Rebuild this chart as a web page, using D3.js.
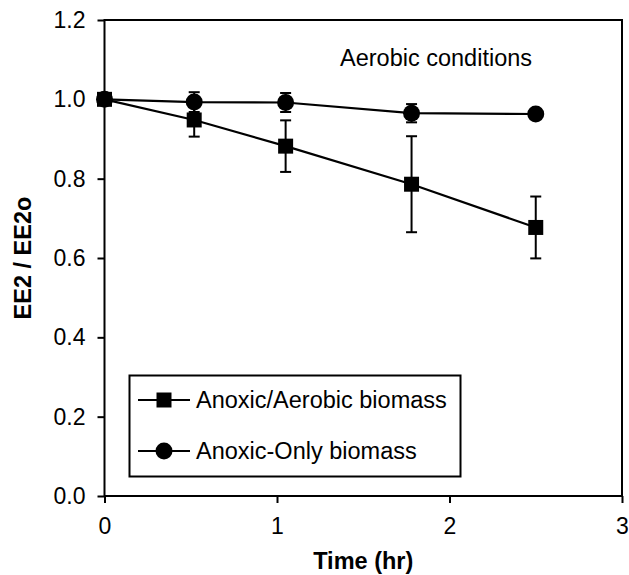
<!DOCTYPE html>
<html>
<head>
<meta charset="utf-8">
<script src="https://cdn.jsdelivr.net/npm/d3@7"></script>
<style>
  html, body { margin: 0; padding: 0; background: #fff; }
  svg { display: block; font-family: Arial, "Liberation Sans", Helvetica, sans-serif; }
</style>
</head>
<body>
<svg id="chart" width="629" height="575"></svg>
<script>
// Sampling times (hr)
const times = [0, 0.52, 1.05, 1.78, 2.5];

// EE2 / EE2o for each biomass, with standard deviations
const anoxicAerobic = [1.0, 0.948, 0.882, 0.786, 0.677];
const anoxicAerobicErr = [0, 0.042, 0.065, 0.121, 0.078];
const anoxicOnly = [1.0, 0.993, 0.992, 0.965, 0.963];
const anoxicOnlyErr = [0, 0.025, 0.024, 0.023, 0.005];

const seriesNames = ["Anoxic/Aerobic biomass", "Anoxic-Only biomass"];
const xTicks = [0, 1, 2, 3];
const yTicks = [0, 0.2, 0.4, 0.6, 0.8, 1.0, 1.2];

const svg = d3.select("#chart");
const plotL = 104.5, plotR = 622, plotT = 20, plotB = 496;
const FS = 23.5;

const x = d3.scaleLinear().domain([0, 3]).range([plotL, plotR]);
const y = d3.scaleLinear().domain([0, 1.2]).range([plotB, plotT]);

// Axes
const xAxis = svg.append("g").attr("transform", `translate(0,${plotB})`)
  .call(d3.axisBottom(x).tickValues(xTicks).tickSize(7).tickSizeOuter(0).tickPadding(10)
    .tickFormat(d3.format("d")));
const yAxis = svg.append("g").attr("transform", `translate(${plotL},0)`)
  .call(d3.axisLeft(y).tickValues(yTicks).tickSize(7).tickSizeOuter(0).tickPadding(12)
    .tickFormat(d3.format(".1f")));
[xAxis, yAxis].forEach(g => {
  g.select(".domain").remove();
  g.selectAll(".tick line").attr("stroke", "#000").attr("stroke-width", 2);
  g.selectAll(".tick text").attr("fill", "#000").style("font-size", "23px");
});
xAxis.selectAll(".tick text").attr("dy", "0.9em");

// Plot frame
svg.append("rect")
  .attr("x", plotL).attr("y", plotT)
  .attr("width", plotR - plotL).attr("height", plotB - plotT)
  .attr("fill", "none").attr("stroke", "#000").attr("stroke-width", 2);

// Axis titles
svg.append("text")
  .attr("x", (plotL + plotR) / 2).attr("y", 569)
  .attr("text-anchor", "middle").style("font-size", FS + "px").style("font-weight", "bold")
  .text("Time (hr)");
svg.append("text")
  .attr("transform", `translate(31,${(plotT + plotB) / 2}) rotate(-90)`)
  .attr("text-anchor", "middle").style("font-size", FS + "px").style("font-weight", "bold")
  .text("EE2 / EE2o");

// Annotation
svg.append("text")
  .attr("x", 340).attr("y", 66)
  .style("font-size", FS + "px")
  .text("Aerobic conditions");

const line = d3.line().x(d => x(d[0])).y(d => y(d[1]));
const capW = 5.5;

function drawSeries(vals, errs, shape) {
  const pts = times.map((t, i) => [t, vals[i], errs[i]]);
  const g = svg.append("g");
  g.append("path").datum(pts).attr("d", line)
    .attr("fill", "none").attr("stroke", "#000").attr("stroke-width", 2.2);
  const eb = g.selectAll(".eb").data(pts.filter(d => d[2] > 0)).join("g");
  eb.append("line")
    .attr("x1", d => x(d[0])).attr("x2", d => x(d[0]))
    .attr("y1", d => y(d[1] - d[2])).attr("y2", d => y(d[1] + d[2]))
    .attr("stroke", "#000").attr("stroke-width", 2);
  [-1, 1].forEach(s => {
    eb.append("line")
      .attr("x1", d => x(d[0]) - capW).attr("x2", d => x(d[0]) + capW)
      .attr("y1", d => y(d[1] + s * d[2])).attr("y2", d => y(d[1] + s * d[2]))
      .attr("stroke", "#000").attr("stroke-width", 2);
  });
  g.selectAll(".mk").data(pts).join("path")
    .attr("transform", d => `translate(${x(d[0])},${y(d[1])})`)
    .attr("d", shape)
    .attr("fill", "#000");
}

const squareShape = "M-7.5,-7.5H7.5V7.5H-7.5Z";
const circleShape = d3.symbol(d3.symbolCircle, Math.PI * 8.5 * 8.5)();

drawSeries(anoxicAerobic, anoxicAerobicErr, squareShape);
drawSeries(anoxicOnly, anoxicOnlyErr, circleShape);

// Legend
const lg = svg.append("g");
lg.append("rect")
  .attr("x", 129.5).attr("y", 375.5).attr("width", 331).attr("height", 101)
  .attr("fill", "#fff").attr("stroke", "#000").attr("stroke-width", 2);
const rows = [
  { name: seriesNames[0], shape: squareShape, yPos: 400 },
  { name: seriesNames[1], shape: circleShape, yPos: 451 }
];
rows.forEach(r => {
  lg.append("line").attr("x1", 138).attr("x2", 190).attr("y1", r.yPos).attr("y2", r.yPos)
    .attr("stroke", "#000").attr("stroke-width", 2.2);
  lg.append("path").attr("transform", `translate(164,${r.yPos})`).attr("d", r.shape).attr("fill", "#000");
  lg.append("text").attr("x", 196).attr("y", r.yPos).attr("dy", "0.36em")
    .style("font-size", FS + "px").text(r.name);
});
</script>
</body>
</html>
